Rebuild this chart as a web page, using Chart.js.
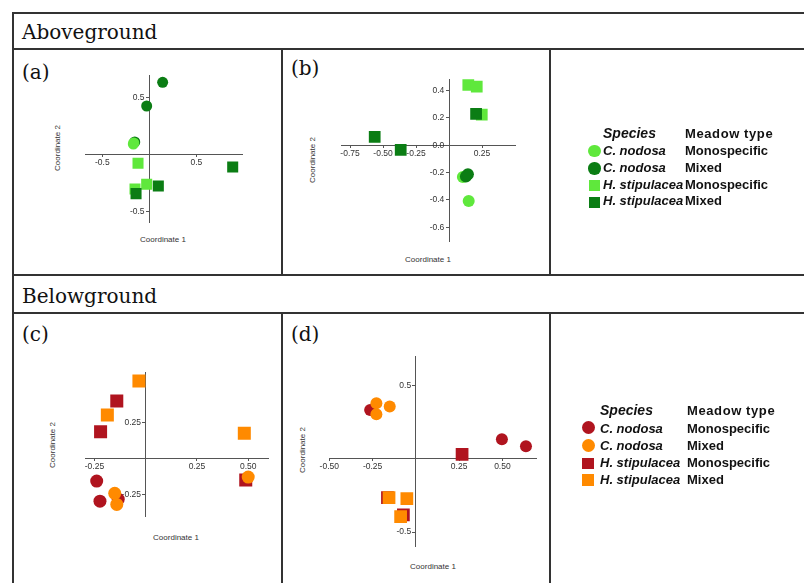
<!DOCTYPE html>
<html lang="en">
<head>
<meta charset="UTF-8">
<title>PCoA aboveground / belowground</title>
<script src="https://cdn.jsdelivr.net/npm/chart.js"></script>
<style>
  body { margin: 0; background: #fff; }
  #page { position: relative; width: 804px; height: 583px; overflow: hidden;
          font-family: "Liberation Sans", Arial, sans-serif; }
  .hl { position: absolute; height: 2px; background: #333; }
  .vl { position: absolute; width: 2px; background: #333; }
  .head { position: absolute; font-family: "DejaVu Serif", serif; font-size: 20px;
          line-height: 20px; color: #111; white-space: nowrap; }
  .axt { position: absolute; font-size: 8px; line-height: 8px; color: #333;
         white-space: nowrap; transform: translate(-50%, -50%); }
  .axt.rot { transform: translate(-50%, -50%) rotate(-90deg); }
  canvas { position: absolute; left: 0; top: 0; }
  .lg { position: absolute; font-size: 13px; line-height: 13px; font-weight: bold;
        color: #111; white-space: nowrap; }
  .lg.sp { font-style: italic; }
  .mk { position: absolute; }
</style>
</head>
<body>
<div id="page">
  <!-- table frame -->
  <div class="hl" style="left:12px; top:12px; width:792px"></div>
  <div class="hl" style="left:12px; top:48px; width:792px"></div>
  <div class="hl" style="left:12px; top:274px; width:792px"></div>
  <div class="hl" style="left:12px; top:312px; width:792px"></div>
  <div class="vl" style="left:12px; top:12px; height:571px"></div>
  <div class="vl" style="left:281px; top:48px; height:227px"></div>
  <div class="vl" style="left:549px; top:48px; height:227px"></div>
  <div class="vl" style="left:281px; top:312px; height:271px"></div>
  <div class="vl" style="left:549px; top:312px; height:271px"></div>

  <div class="head" style="left:22px; top:22px">Aboveground</div>
  <div class="head" style="left:22px; top:286px">Belowground</div>
  <div class="head" style="left:22px; top:62px">(a)</div>
  <div class="head" style="left:291px; top:58px">(b)</div>
  <div class="head" style="left:22px; top:324px">(c)</div>
  <div class="head" style="left:291px; top:324px">(d)</div>

  <div class="axt" style="left:163px; top:240px">Coordinate 1</div>
  <div class="axt rot" style="left:58px; top:148px">Coordinate 2</div>
  <div class="axt" style="left:428px; top:260px">Coordinate 1</div>
  <div class="axt rot" style="left:313px; top:160px">Coordinate 2</div>
  <div class="axt" style="left:176px; top:538px">Coordinate 1</div>
  <div class="axt rot" style="left:53px; top:445px">Coordinate 2</div>
  <div class="axt" style="left:433px; top:567px">Coordinate 1</div>
  <div class="axt rot" style="left:303px; top:450px">Coordinate 2</div>

  <canvas id="chartA" width="804" height="583"></canvas>
  <canvas id="chartB" width="804" height="583"></canvas>
  <canvas id="chartC" width="804" height="583"></canvas>
  <canvas id="chartD" width="804" height="583"></canvas>
</div>

<script>
  // ---- data (coordinates) ----
  const SPECIES = ['C. nodosa', 'C. nodosa', 'H. stipulacea', 'H. stipulacea'];
  const MEADOW = ['Monospecific', 'Mixed', 'Monospecific', 'Mixed'];

  // (a) aboveground
  const A_CN_MONO = [[-0.17, 0.09], [-0.165, 0.1]];
  const A_CN_MIX = [[0.142, 0.632], [-0.028, 0.424], [-0.155, 0.108]];
  const A_HS_MONO = [[-0.12, -0.079], [-0.152, -0.304], [-0.028, -0.263]];
  const A_HS_MIX = [[0.887, -0.111], [0.096, -0.278], [-0.141, -0.345]];
  const A_XTICKS = [-0.5, 0.5];
  const A_XLABELS = ['-0.5', '0.5'];
  const A_YTICKS = [0.5, -0.5];
  const A_YLABELS = ['0.5', '-0.5'];

  // (b) aboveground
  const B_CN_MONO = [[0.105, -0.232], [0.149, -0.408]];
  const B_CN_MIX = [[0.128, -0.228], [0.143, -0.213]];
  const B_HS_MONO = [[0.146, 0.442], [0.21, 0.43], [0.248, 0.224]];
  const B_HS_MIX = [[0.205, 0.229], [-0.563, 0.061], [-0.366, -0.034]];
  const B_XTICKS = [-0.75, -0.5, -0.25, 0.25];
  const B_XLABELS = ['-0.75', '-0.50', '-0.25', '0.25'];
  const B_YTICKS = [0.4, 0.2, 0, -0.2, -0.4, -0.6];
  const B_YLABELS = ['0.4', '0.2', '0.0', '-0.2', '-0.4', '-0.6'];

  // (c) belowground
  const C_CN_MONO = [[-0.239, -0.158], [-0.223, -0.297], [-0.134, -0.283]];
  const C_CN_MIX = [[0.5, -0.13], [-0.151, -0.243], [-0.141, -0.32]];
  const C_HS_MONO = [[-0.141, 0.398], [-0.22, 0.185], [0.488, -0.151]];
  const C_HS_MIX = [[-0.033, 0.537], [-0.187, 0.301], [0.481, 0.174]];
  const C_XTICKS = [-0.25, 0.25, 0.5];
  const C_XLABELS = ['-0.25', '0.25', '0.50'];
  const C_YTICKS = [0.25, -0.25];
  const C_YLABELS = ['0.25', '-0.25'];

  // (d) belowground
  const D_CN_MONO = [[-0.264, 0.331], [0.497, 0.132], [0.636, 0.084]];
  const D_CN_MIX = [[-0.228, 0.377], [-0.228, 0.302], [-0.151, 0.356]];
  const D_HS_MONO = [[0.267, 0.03], [-0.164, -0.265], [-0.072, -0.383]];
  const D_HS_MIX = [[-0.155, -0.265], [-0.052, -0.272], [-0.088, -0.395]];
  const D_XTICKS = [-0.5, -0.25, 0.25, 0.5];
  const D_XLABELS = ['-0.50', '-0.25', '0.25', '0.50'];
  const D_YTICKS = [0.5, -0.5];
  const D_YLABELS = ['0.5', '-0.5'];

  const LIGHT = '#5fe83c', DARK = '#0b7d14', RED = '#b0141f', ORANGE = '#ff8a00';

  const pts = arr => arr.map(p => ({ x: p[0], y: p[1] }));

  function series(data, color, square, order, circR, sqR) {
    return {
      data: pts(data),
      pointStyle: square ? 'rect' : 'circle',
      pointRadius: square ? sqR : circR,
      backgroundColor: color,
      borderColor: color,
      borderWidth: 0,
      order: order
    };
  }

  function axis(min, max, ticks, labels, pos, isX) {
    return {
      type: 'linear',
      min: min, max: max,
      position: pos,
      afterBuildTicks: s => { s.ticks = ticks.map(v => ({ value: v })); },
      border: { color: '#555', width: 1 },
      grid: { drawOnChartArea: false, drawTicks: true, tickLength: isX ? 2 : 3, color: '#555' },
      ticks: {
        autoSkip: false, maxRotation: 0, padding: 1,
        color: '#333',
        font: { family: '"Liberation Sans", Arial, sans-serif', size: 8.5 },
        // the y labels of an axis placed at x=0 are right-aligned on the line itself,
        // so two trailing spaces keep them clear of the tick marks
        callback: (v, i) => isX ? labels[i] : labels[i] + '  '
      }
    };
  }

  // area = [left, top, right, bottom] of the plot box in page pixels
  function plot(id, area, xr, yr, xt, xl, yt, yl, sets) {
    new Chart(document.getElementById(id), {
      type: 'scatter',
      data: { datasets: sets },
      options: {
        responsive: false,
        animation: false,
        events: [],
        layout: { padding: { left: area[0], top: area[1], right: 804 - area[2], bottom: 583 - area[3] } },
        plugins: { legend: { display: false }, tooltip: { enabled: false } },
        scales: {
          x: axis(xr[0], xr[1], xt, xl, { y: 0 }, true),
          y: axis(yr[0], yr[1], yt, yl, { x: 0 }, false)
        }
      }
    });
  }

  plot('chartA', [85, 75, 242, 222.7], [-0.684, 0.986], [-0.6, 0.696],
    A_XTICKS, A_XLABELS, A_YTICKS, A_YLABELS, [
      series(A_CN_MONO, LIGHT, false, 1, 5.5, 7.8),
      series(A_CN_MIX, DARK, false, 2, 5.5, 7.8),
      series(A_HS_MONO, LIGHT, true, 4, 5.5, 7.8),
      series(A_HS_MIX, DARK, true, 3, 5.5, 7.8)
    ]);

  plot('chartB', [341.7, 79.3, 515.7, 241.7], [-0.813, 0.505], [-0.706, 0.483],
    B_XTICKS, B_XLABELS, B_YTICKS, B_YLABELS, [
      series(B_CN_MONO, LIGHT, false, 2, 6, 8.3),
      series(B_CN_MIX, DARK, false, 1, 6, 8.3),
      series(B_HS_MONO, LIGHT, true, 4, 6, 8.3),
      series(B_HS_MIX, DARK, true, 3, 6, 8.3)
    ]);

  plot('chartC', [85, 372.7, 268.3, 516], [-0.296, 0.598], [-0.4, 0.594],
    C_XTICKS, C_XLABELS, C_YTICKS, C_YLABELS, [
      series(C_CN_MONO, RED, false, 3, 6.5, 9.2),
      series(C_CN_MIX, ORANGE, false, 1, 6.5, 9.2),
      series(C_HS_MONO, RED, true, 4, 6.5, 9.2),
      series(C_HS_MIX, ORANGE, true, 2, 6.5, 9.2)
    ]);

  plot('chartD', [329.3, 356, 536, 546.7], [-0.5, 0.694], [-0.599, 0.699],
    D_XTICKS, D_XLABELS, D_YTICKS, D_YLABELS, [
      series(D_CN_MONO, RED, false, 3, 6, 9),
      series(D_CN_MIX, ORANGE, false, 1, 6, 9),
      series(D_HS_MONO, RED, true, 4, 6, 9),
      series(D_HS_MIX, ORANGE, true, 2, 6, 9)
    ]);

  // ---- legends (HTML) ----
  const page = document.getElementById('page');
  function addText(cls, txt, x, baseline) {
    const d = document.createElement('div');
    d.className = cls;
    d.textContent = txt;
    d.style.left = x + 'px';
    d.style.top = (baseline - 11) + 'px';
    page.appendChild(d);
    return d;
  }
  function legend(colors, mx, spX, mdX, headBase, rowBases, rowCenters, size) {
    addText('lg sp', 'Species', spX, headBase).style.fontSize = '14px';
    addText('lg', 'Meadow type', mdX, headBase).style.letterSpacing = '0.6px';
    SPECIES.forEach((s, i) => {
      addText('lg sp', s, spX, rowBases[i]);
      addText('lg', MEADOW[i], mdX, rowBases[i]);
      const m = document.createElement('div');
      m.className = 'mk';
      const sz = i < 2 ? size + 1.5 : size;
      m.style.width = sz + 'px';
      m.style.height = sz + 'px';
      m.style.left = (mx - sz / 2) + 'px';
      m.style.top = (rowCenters[i] - sz / 2) + 'px';
      m.style.background = colors[i];
      if (i < 2) m.style.borderRadius = '50%';
      page.appendChild(m);
    });
  }
  legend([LIGHT, DARK, LIGHT, DARK], 594.5, 603, 685, 137.7,
    [155, 171.7, 189.3, 205.3], [151, 168.5, 185.3, 202.3], 11);
  legend([RED, ORANGE, RED, ORANGE], 588, 600, 687, 415,
    [432.7, 450.2, 467.3, 484], [427.7, 445, 463.5, 480], 11.5);
</script>
</body>
</html>
